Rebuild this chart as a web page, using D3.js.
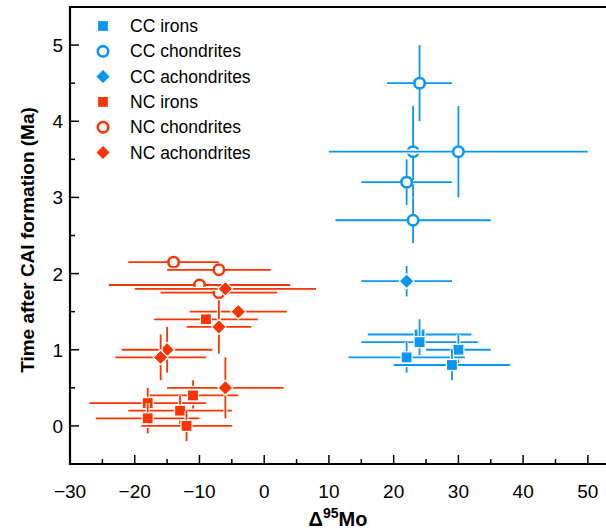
<!DOCTYPE html>
<html><head><meta charset="utf-8">
<script src="https://cdn.jsdelivr.net/npm/d3@7"></script>
<style>
html,body{margin:0;padding:0;background:#fff;}
svg{display:block;font-family:"Liberation Sans",Arial,Helvetica,sans-serif;}
</style></head>
<body>
<svg id="chart" width="606" height="530"></svg>
<script>
// ---- data: [x (Δ95Mo), x error, y (Ma), y error] ----
const ccIrons = [
  {x:24, xe:8, y:1.2, ye:0.2},
  {x:24, xe:9, y:1.1, ye:0.2},
  {x:30, xe:5, y:1.0, ye:0.2},
  {x:22, xe:9, y:0.9, ye:0.2},
  {x:29, xe:9, y:0.8, ye:0.2}
];
const ccChondrites = [
  {x:24, xe:5,  y:4.5, ye:0.5},
  {x:23, xe:4,  y:3.6, ye:0.6},
  {x:30, xe:20, y:3.6, ye:0.6},
  {x:22, xe:7,  y:3.2, ye:0.3},
  {x:23, xe:12, y:2.7, ye:0.3}
];
const ccAchondrites = [
  {x:22, xe:7, y:1.9, ye:0.2}
];
const ncIrons = [
  {x:-9,  xe:8, y:1.4, ye:0},
  {x:-11, xe:7, y:0.4, ye:0.2},
  {x:-18, xe:9, y:0.3, ye:0.2},
  {x:-13, xe:8, y:0.2, ye:0.2},
  {x:-18, xe:8, y:0.1, ye:0.2},
  {x:-12, xe:7, y:0.0, ye:0.2}
];
const ncChondrites = [
  {x:-14, xe:7,  y:2.15, ye:0.06},
  {x:-7,  xe:8,  y:2.05, ye:0.06},
  {x:-10, xe:14, y:1.85, ye:0.06},
  {x:-7,  xe:9,  y:1.75, ye:0.06}
];
const ncAchondrites = [
  {x:-6,  xe:14,  y:1.8, ye:0},
  {x:-4,  xe:7.5, y:1.5, ye:0},
  {x:-7,  xe:5,   y:1.3, ye:0.35},
  {x:-15, xe:7,   y:1.0, ye:0.3},
  {x:-16, xe:7,   y:0.9, ye:0.3},
  {x:-6,  xe:9,   y:0.5, ye:0.4}
];
const xTicks = [-30,-20,-10,0,10,20,30,40,50];
const xMinor = [-25,-15,-5,5,15,25,35,45];
const yTicks = [0,1,2,3,4,5];
const yMinor = [0.5,1.5,2.5,3.5,4.5];
const seriesNames = ["CC irons","CC chondrites","CC achondrites","NC irons","NC chondrites","NC achondrites"];

// ---- styling ----
const CC = "#0a96f5", NC = "#ff3300";
const series = [
  {name:seriesNames[0], data:ccIrons, color:CC, shape:"square"},
  {name:seriesNames[1], data:ccChondrites, color:CC, shape:"circle"},
  {name:seriesNames[2], data:ccAchondrites, color:CC, shape:"diamond"},
  {name:seriesNames[3], data:ncIrons, color:NC, shape:"square"},
  {name:seriesNames[4], data:ncChondrites, color:NC, shape:"circle"},
  {name:seriesNames[5], data:ncAchondrites, color:NC, shape:"diamond"}
];

const svg = d3.select("#chart");
const x = d3.scaleLinear().domain([-30, 52.8]).range([70, 606]);
const y = d3.scaleLinear().domain([-0.5, 5.5]).range([464, 7]);

function drawMarker(g, shape, color, cx, cy) {
  if (shape === "square") {
    g.append("rect").attr("x", cx-5.5).attr("y", cy-5.5).attr("width", 11).attr("height", 11)
      .attr("fill", color).attr("stroke", "#fff").attr("stroke-width", 1.2);
  } else if (shape === "circle") {
    g.append("circle").attr("cx", cx).attr("cy", cy).attr("r", 5.2)
      .attr("fill", "#fff").attr("stroke", color).attr("stroke-width", 2.6);
  } else {
    const s = 7.4;
    g.append("path").attr("d", `M${cx},${cy-s}L${cx+s},${cy}L${cx},${cy+s}L${cx-s},${cy}Z`)
      .attr("fill", color).attr("stroke", "#fff").attr("stroke-width", 1.2);
  }
}

// ---- points ----
const plot = svg.append("g");
series.forEach(s => {
  s.data.forEach(d => {
    const g = plot.append("g");
    const segs = [[x(d.x-d.xe), y(d.y), x(d.x+d.xe), y(d.y)]];
    if (d.ye > 0) segs.push([x(d.x), y(d.y-d.ye), x(d.x), y(d.y+d.ye)]);
    segs.forEach(sg => g.append("line").attr("x1",sg[0]).attr("y1",sg[1]).attr("x2",sg[2]).attr("y2",sg[3])
      .attr("stroke","#fff").attr("stroke-width",4.2));
    segs.forEach(sg => g.append("line").attr("x1",sg[0]).attr("y1",sg[1]).attr("x2",sg[2]).attr("y2",sg[3])
      .attr("stroke",s.color).attr("stroke-width",1.8));
    drawMarker(g, s.shape, s.color, x(d.x), y(d.y));
  });
});

// ---- axes ----
const ax = svg.append("g").attr("stroke","#000").attr("fill","none");
ax.append("path").attr("d", `M606,${y(5.5)}H${x(-30)}V${y(-0.5)}H606`).attr("stroke-width",2.2);
xTicks.forEach(t => ax.append("line").attr("x1",x(t)).attr("x2",x(t)).attr("y1",y(-0.5)).attr("y2",y(-0.5)-9).attr("stroke-width",1.5));
xMinor.forEach(t => ax.append("line").attr("x1",x(t)).attr("x2",x(t)).attr("y1",y(-0.5)).attr("y2",y(-0.5)-5).attr("stroke-width",1.5));
yTicks.forEach(t => ax.append("line").attr("x1",x(-30)).attr("x2",x(-30)+9).attr("y1",y(t)).attr("y2",y(t)).attr("stroke-width",1.5));
yMinor.forEach(t => ax.append("line").attr("x1",x(-30)).attr("x2",x(-30)+5).attr("y1",y(t)).attr("y2",y(t)).attr("stroke-width",1.5));

const fmt = v => v < 0 ? "\u2212" + Math.abs(v) : String(v);
svg.append("g").selectAll("text").data(xTicks).join("text")
  .attr("x", d => x(d)).attr("y", 498).attr("text-anchor","middle")
  .attr("font-size",19).attr("fill","#000").text(fmt);
svg.append("g").selectAll("text").data(yTicks).join("text")
  .attr("x", 63).attr("y", d => y(d)+7).attr("text-anchor","end")
  .attr("font-size",19).attr("fill","#000").text(fmt);

// axis titles
const xt = svg.append("text").attr("x", 338).attr("y", 526).attr("text-anchor","middle")
  .attr("font-size",20).attr("font-weight","bold").attr("fill","#000");
xt.append("tspan").text("\u0394");
xt.append("tspan").attr("dy",-8).attr("font-size",14).text("95");
xt.append("tspan").attr("dy",8).text("Mo");
svg.append("text").attr("transform","translate(34,240) rotate(-90)").attr("text-anchor","middle")
  .attr("font-size",19).attr("font-weight","bold").attr("fill","#000")
  .text("Time after CAI formation (Ma)");

// ---- legend ----
const lg = svg.append("g");
series.forEach((s,i) => {
  const cy = 26 + i*25.3;
  drawMarker(lg, s.shape, s.color, 103, cy);
  lg.append("text").attr("x",130).attr("y",cy+6).attr("font-size",17.5).attr("fill","#000").text(s.name);
});
</script>
</body></html>
